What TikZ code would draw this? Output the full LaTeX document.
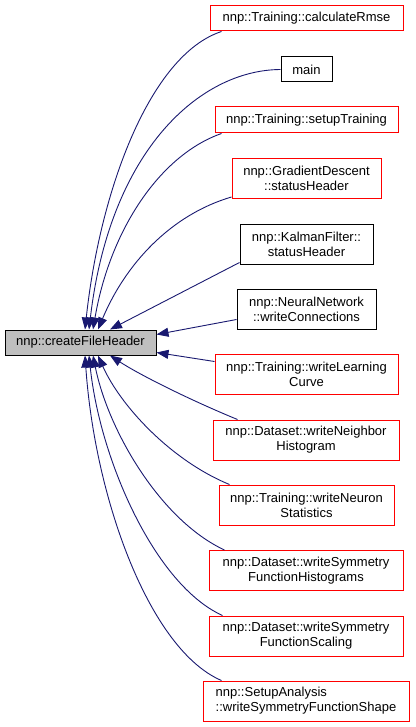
\documentclass[tikz,border=0pt]{standalone}
\usepackage{fontspec}
\setmainfont{Liberation Sans}
\usetikzlibrary{arrows.meta}
\definecolor{edgeblue}{HTML}{191970}
\definecolor{boxgray}{HTML}{BFBFBF}
\definecolor{boxred}{HTML}{FF0000}
\tikzset{
  fn/.style={draw=boxred, line width=1pt, fill=white, inner sep=0pt,
    minimum height=40pt, align=center, font=\fontsize{13}{15}\selectfont},
  fnb/.style={fn, draw=black},
  edge/.style={draw=edgeblue, line width=0.9pt, -{Triangle[length=12pt,width=9pt]}},
}
\begin{document}
\begin{tikzpicture}[x=1pt,y=-1pt]
\useasboundingbox (0,0) rectangle (415,727);
\node[fn, minimum width=206pt, align=left, text=black] (sa) at (306,701) {nnp::SetupAnalysis\\::writeSymmetryFunctionShape};
\node[fnb, fill=boxgray, minimum width=151pt, minimum height=25pt] (cfh) at (80.5,342.5) {nnp::createFileHeader};
\node[fn, minimum width=193pt, minimum height=25pt] (rmse) at (306.5,18.5) {nnp::Training::calculateRmse};
\node[fnb, minimum width=51pt, minimum height=25pt] (mainf) at (306.5,69.5) {main};
\node[fn, minimum width=183pt, minimum height=26pt] (setup) at (306.5,120) {nnp::Training::setupTraining};
\node[fn, minimum width=149pt] (gd) at (306.5,178.5) {nnp::GradientDescent\\::statusHeader};
\node[fnb, minimum width=133pt] (kf) at (306.5,244) {nnp::KalmanFilter::\\statusHeader};
\node[fnb, minimum width=139pt] (nn) at (306.5,309) {nnp::NeuralNetwork\\::writeConnections};
\node[fn, minimum width=183pt] (lc) at (306.5,374) {nnp::Training::writeLearning\\Curve};
\node[fn, minimum width=186pt] (nh) at (306,440) {nnp::Dataset::writeNeighbor\\Histogram};
\node[fn, minimum width=175pt] (ns) at (306.5,505) {nnp::Training::writeNeuron\\Statistics};
\node[fn, minimum width=194pt] (sh) at (306,570.5) {nnp::Dataset::writeSymmetry\\FunctionHistograms};
\node[fn, minimum width=194pt] (ss) at (306,636) {nnp::Dataset::writeSymmetry\\FunctionScaling};

% edges above
\draw[edge] ([xshift=12pt]rmse.south west) .. controls (150,55) and (100,190) .. ([xshift=4.5pt]cfh.north);
\draw[edge] (mainf.west) .. controls (200,70) and (110,150) .. ([xshift=8.5pt]cfh.north);
\draw[edge] ([xshift=7pt]setup.south west) .. controls (160,155) and (110,230) .. ([xshift=12.5pt]cfh.north);
\draw[edge] ([yshift=2pt]gd.south west) .. controls (170,215) and (125,265) .. ([xshift=17.5pt]cfh.north);
\draw[edge] ([yshift=2pt]kf.south west) -- ([xshift=29.5pt]cfh.north);
\draw[edge] ([yshift=10pt]nn.south west) -- ([yshift=-5pt]cfh.north east);
% edges below
\draw[edge] ([yshift=-8pt]lc.north west) -- ([yshift=3pt]cfh.south east);
\draw[edge] ([xshift=25pt]nh.north west) .. controls (190,400) and (140,375) .. ([xshift=29.5pt]cfh.south);
\draw[edge] ([xshift=11pt]ns.north west) .. controls (170,460) and (120,405) .. ([xshift=17.5pt]cfh.south);
\draw[edge] ([xshift=16pt]sh.north west) .. controls (160,520) and (108,430) .. ([xshift=12.5pt]cfh.south);
\draw[edge] ([xshift=14pt]ss.north west) .. controls (155,585) and (100,460) .. ([xshift=8.5pt]cfh.south);
\draw[edge] ([xshift=19pt]sa.north west) .. controls (150,650) and (95,500) .. ([xshift=4.5pt]cfh.south);
\end{tikzpicture}
\end{document}
